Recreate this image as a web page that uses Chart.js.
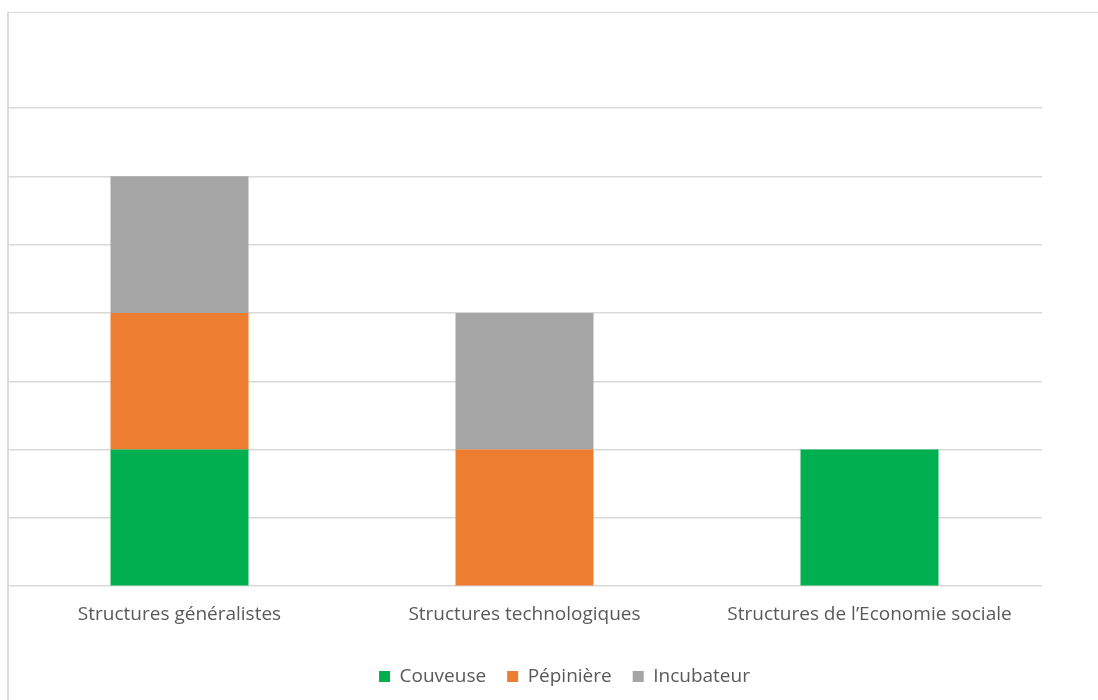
<!DOCTYPE html>
<html>
<head>
<meta charset="utf-8">
<script src="https://cdn.jsdelivr.net/npm/chart.js@4"></script>
<style>
  html, body { margin: 0; padding: 0; background: #fff; }
  #frame { position: absolute; left: 7px; top: 12px; width: 1091px; height: 688px;
           border-top: 1px solid #d9d9d9; border-left: 2px solid #d9d9d9; box-sizing: border-box; }
  #wrap { position: absolute; left: 0; top: 0; width: 1098px; height: 700px; }
</style>
</head>
<body>
<div id="frame"></div>
<div id="wrap"><canvas id="c" width="1098" height="700"></canvas></div>
<script>
const categories = ["Structures généralistes", "Structures technologiques", "Structures de l\u2019Economie sociale"];
const seriesNames = ["Couveuse", "Pépinière", "Incubateur"];
const couveuse = [1, 0, 1];
const pepiniere = [1, 1, 0];
const incubateur = [1, 1, 0];
const colors = ["#00b050", "#ed7d31", "#a5a5a5"];
const FONT = "'Open Sans', sans-serif";

// Shift the legend box horizontally so it is centred like in the original
const legendShift = {
  id: 'legendShift',
  afterLayout(chart) {
    if (chart.legend) { chart.legend.left += 40; chart.legend.right += 40; }
  }
};

new Chart(document.getElementById('c'), {
  type: 'bar',
  data: {
    labels: categories,
    datasets: [
      { label: seriesNames[0], data: couveuse, backgroundColor: colors[0] },
      { label: seriesNames[1], data: pepiniere, backgroundColor: colors[1] },
      { label: seriesNames[2], data: incubateur, backgroundColor: colors[2] }
    ]
  },
  plugins: [legendShift],
  options: {
    responsive: false,
    animation: false,
    layout: { padding: { left: 7, right: 56, top: 108, bottom: 4 } },
    datasets: { bar: { barPercentage: 0.4, categoryPercentage: 1.0 } },
    scales: {
      x: {
        stacked: true,
        grid: { display: false },
        border: { display: false },
        afterFit(scale) { scale.height += 11; },
        ticks: { color: '#595959', font: { family: FONT, size: 19 }, padding: 9, maxRotation: 0 }
      },
      y: {
        stacked: true,
        min: 0, max: 3.5,
        ticks: { display: false, stepSize: 0.5 },
        grid: { color: '#d9d9d9', lineWidth: 1.5, drawTicks: false },
        border: { display: false }
      }
    },
    plugins: {
      legend: {
        position: 'bottom',
        labels: { color: '#595959', font: { family: FONT, size: 19 }, boxWidth: 11, boxHeight: 11, padding: 21 }
      },
      tooltip: { enabled: false }
    }
  }
});
</script>
</body>
</html>
